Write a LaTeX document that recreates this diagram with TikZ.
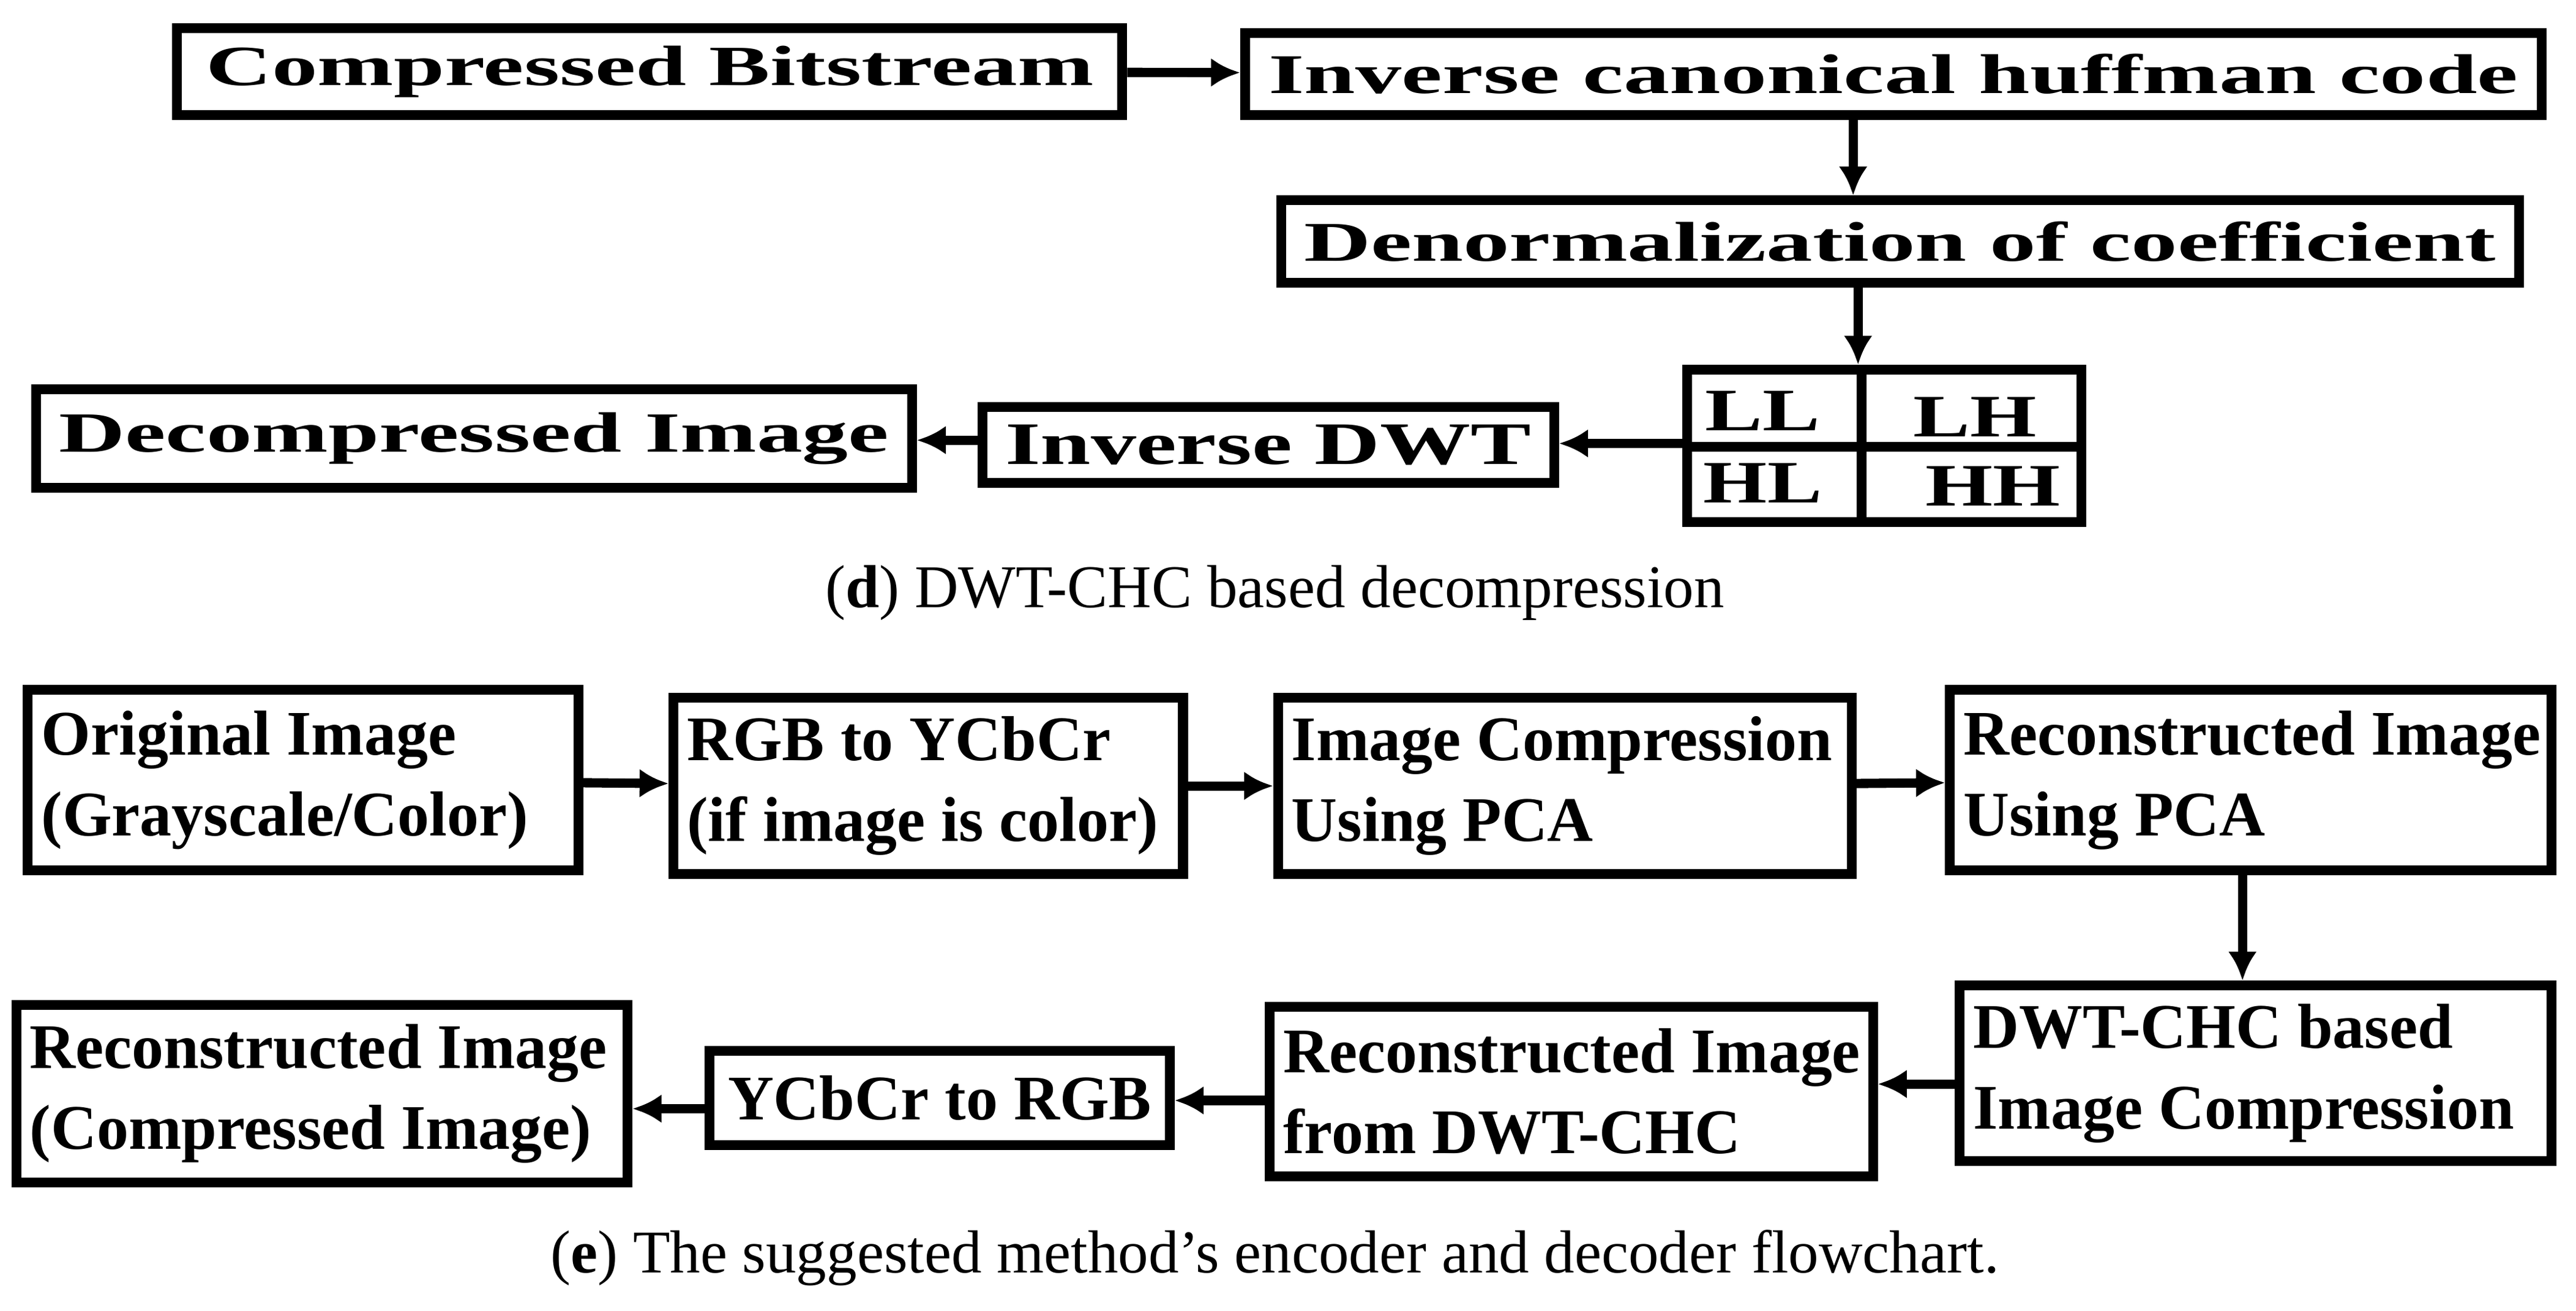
\documentclass[tikz,border=0pt]{standalone}
\usepackage{fontspec}
\setmainfont{Liberation Serif}
\usetikzlibrary{arrows.meta}
\newcommand{\dtxt}[2]{\resizebox{#1cm}{0.24cm}{\textbf{#2}}}
\begin{document}
\begin{tikzpicture}[x=0.01cm,y=-0.01cm,
  bx/.style={draw,line width=1.7pt,inner sep=0pt},
  ar/.style={line width=1.6pt,-{Latex[length=5pt,width=5pt]}},
  et/.style={font=\fontsize{11}{14}\selectfont\bfseries,align=left,anchor=west,inner sep=3pt}]
\useasboundingbox (0,0) rectangle (1568,798);
% (d)
\node[bx,minimum width=5.75cm,minimum height=0.53cm] (cb) at (395.5,43.5) {\dtxt{5.4}{Compressed Bitstream}};
\node[bx,minimum width=7.89cm,minimum height=0.50cm] (ic) at (1152.5,45) {\dtxt{7.6}{Inverse canonical huffman code}};
\node[bx,minimum width=7.53cm,minimum height=0.50cm] (dn) at (1156.5,147) {\dtxt{7.25}{Denormalization of coefficient}};
\node[bx,minimum width=2.40cm,minimum height=0.93cm] (g) at (1147,271.5) {};
\draw[line width=1.7pt] (1133,225) -- (1133,318) (1027,272) -- (1267,272);
\node (ll) at (1073,250) {\dtxt{0.7}{LL}};
\node (lh) at (1202,254) {\dtxt{0.75}{LH}};
\node (hl) at (1073,294) {\dtxt{0.72}{HL}};
\node (hh) at (1213,296) {\dtxt{0.82}{HH}};
\node[bx,minimum width=3.48cm,minimum height=0.46cm] (id) at (772,271) {\dtxt{3.2}{Inverse DWT}};
\node[bx,minimum width=5.33cm,minimum height=0.60cm] (di) at (288.5,267) {\dtxt{5.05}{Decompressed Image}};
\draw[ar] (cb) -- (ic);
\draw[ar] (ic.south -| 1128,0) -- (dn.north -| 1128,0);
\draw[ar] (dn.south -| 1131,0) -- (g.north -| 1131,0);
\draw[ar] (g.west |- 0,270) -- (id.east |- 0,270);
\draw[ar] (id.west |- 0,268) -- (di.east |- 0,268);
\node[font=\fontsize{10.5}{12}\selectfont] (cd) at (776,361) {(\textbf{d}) DWT-CHC based decompression};
% (e)
\node[bx,minimum width=3.35cm,minimum height=1.10cm] (oi) at (184.5,475) {};
\node[et] at (oi.west) {Original Image\\(Grayscale/Color)};
\node[bx,minimum width=3.10cm,minimum height=1.07cm] (ry) at (565,478.5) {};
\node[et] at (ry.west) {RGB to YCbCr\\(if image is color)};
\node[bx,minimum width=3.49cm,minimum height=1.07cm] (icp) at (952.5,478.5) {};
\node[et] at (icp.west) {Image Compression\\Using PCA};
\node[bx,minimum width=3.66cm,minimum height=1.10cm] (rp) at (1370,475) {};
\node[et] at (rp.west) {Reconstructed Image\\Using PCA};
\node[bx,minimum width=3.60cm,minimum height=1.07cm] (dc) at (1373,653.5) {};
\node[et] at (dc.west) {DWT-CHC based\\Image Compression};
\node[bx,minimum width=3.67cm,minimum height=1.03cm] (rd) at (956.5,664.5) {};
\node[et] at (rd.west) {Reconstructed Image\\from DWT-CHC};
\node[bx,minimum width=2.80cm,minimum height=0.57cm,font=\fontsize{11}{14}\selectfont\bfseries] (yr) at (572,668.5) {YCbCr to RGB};
\node[bx,minimum width=3.72cm,minimum height=1.08cm] (rc) at (196,666) {};
\node[et] at (rc.west) {Reconstructed Image\\(Compressed Image)};
\draw[ar] (oi) -- (ry);
\draw[ar] (ry) -- (icp);
\draw[ar] (icp) -- (rp);
\draw[ar] (rp.south -| 1365,0) -- (dc.north -| 1365,0);
\draw[ar] (dc.west |- 0,660) -- (rd.east |- 0,660);
\draw[ar] (rd.west |- 0,670) -- (yr.east |- 0,670);
\draw[ar] (yr.west |- 0,675) -- (rc.east |- 0,675);
\node[font=\fontsize{10.5}{12}\selectfont] (ce) at (776,766) {(\textbf{e}) The suggested method’s encoder and decoder flowchart.};
\end{tikzpicture}
\end{document}
